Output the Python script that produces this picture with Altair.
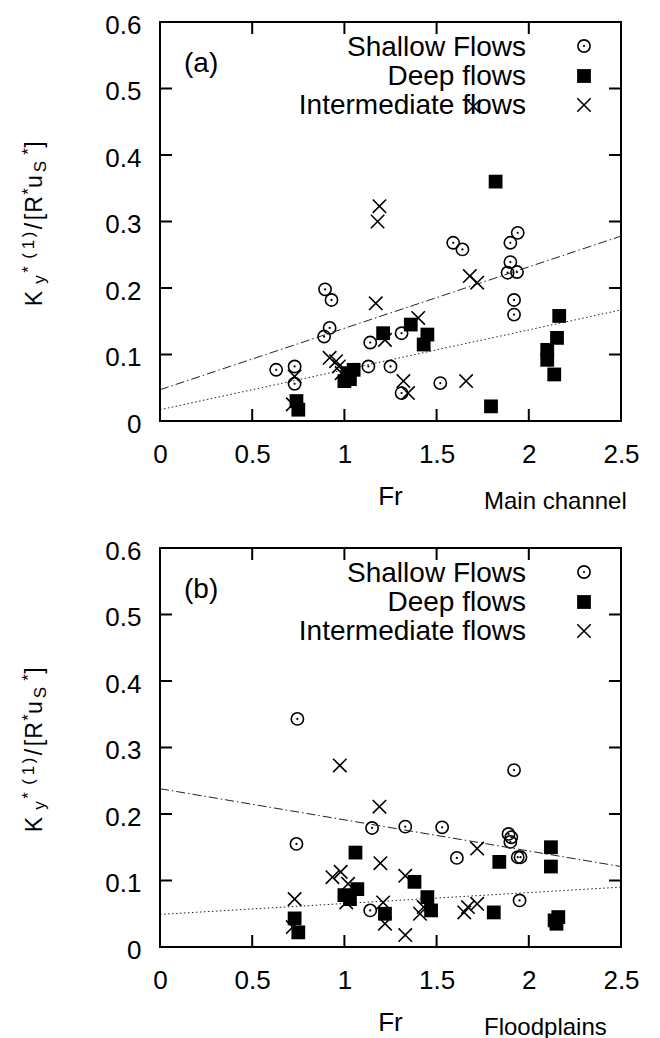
import altair as alt
import pandas as pd

# ---------------- data ----------------
# Panel (a): main channel
shallow_a_fr = [0.63, 0.73, 0.73, 0.895, 0.93, 0.92, 0.89, 1.13, 1.14, 1.25, 1.31, 1.31,
                1.52, 1.59, 1.64, 1.94, 1.90, 1.90, 1.885, 1.936, 1.92, 1.92]
shallow_a_k = [0.077, 0.082, 0.056, 0.198, 0.182, 0.140, 0.127, 0.082, 0.118, 0.082, 0.132, 0.042,
               0.057, 0.268, 0.258, 0.283, 0.268, 0.239, 0.223, 0.224, 0.182, 0.160]
deep_a_fr = [0.74, 0.75, 1.00, 1.03, 1.05, 1.02, 1.21, 1.36, 1.45, 1.43, 1.82, 1.795,
             2.165, 2.153, 2.10, 2.10, 2.138]
deep_a_k = [0.030, 0.017, 0.060, 0.063, 0.077, 0.072, 0.132, 0.145, 0.130, 0.115, 0.360, 0.022,
            0.158, 0.125, 0.107, 0.092, 0.070]
inter_a_fr = [0.73, 0.72, 1.19, 1.18, 1.17, 1.22, 0.92, 0.955, 0.97, 0.985, 1.68, 1.72,
              1.40, 1.32, 1.345, 1.66, 1.70]
inter_a_k = [0.067, 0.025, 0.323, 0.300, 0.177, 0.122, 0.095, 0.090, 0.082, 0.072, 0.218, 0.208,
             0.155, 0.060, 0.042, 0.060, 0.473]
fit_dashdot_a = [0.047, 0.278]
fit_dotted_a = [0.017, 0.167]

# Panel (b): floodplains
shallow_b_fr = [0.745, 0.74, 1.15, 1.14, 1.33, 1.53, 1.61, 1.92, 1.89, 1.905, 1.90, 1.94, 1.955, 1.95]
shallow_b_k = [0.343, 0.155, 0.179, 0.055, 0.181, 0.180, 0.134, 0.266, 0.170, 0.165, 0.158, 0.135,
               0.135, 0.070]
deep_b_fr = [0.73, 0.75, 1.06, 1.07, 1.03, 1.00, 1.22, 1.38, 1.45, 1.47, 1.81, 1.84,
             2.12, 2.12, 2.14, 2.16, 2.15]
deep_b_k = [0.043, 0.022, 0.142, 0.087, 0.072, 0.078, 0.050, 0.098, 0.075, 0.055, 0.052, 0.128,
            0.150, 0.121, 0.040, 0.045, 0.035]
inter_b_fr = [0.73, 0.72, 0.975, 1.19, 1.195, 0.935, 0.98, 1.02, 1.01, 1.21, 1.22, 1.33, 1.33,
              1.43, 1.41, 1.67, 1.65, 1.72, 1.72]
inter_b_k = [0.072, 0.030, 0.273, 0.211, 0.126, 0.105, 0.113, 0.095, 0.067, 0.067, 0.035, 0.107,
             0.018, 0.060, 0.050, 0.060, 0.052, 0.065, 0.148]
fit_dashdot_b = [0.238, 0.121]
fit_dotted_b = [0.049, 0.090]

fit_x = [0.0, 2.5]
x_domain = [0, 2.5]
y_domain = [0, 0.6]
x_ticks = [0, 0.5, 1, 1.5, 2, 2.5]
y_ticks = [0, 0.1, 0.2, 0.3, 0.4, 0.5, 0.6]
x_inner_ticks = [0.5, 1, 1.5, 2]
y_inner_ticks = [0.1, 0.2, 0.3, 0.4, 0.5]
legend_labels = ["Shallow Flows", "Deep flows", "Intermediate flows"]

# ---------------- layout ----------------
W, H = 461, 399
FONT = "Liberation Sans"
TICK = 12
ONE = pd.DataFrame({"a": [0]})
XPATH = "M-1,-1L1,1M-1,1L1,-1"

xs = alt.Scale(domain=x_domain, nice=False, zero=False)
ys = alt.Scale(domain=y_domain, nice=False, zero=False)

# x axis: labels below the frame, plus inward ticks drawn by the axis itself on a
# second (top) axis is avoided: ticks are drawn as marks at the end of the layer list
xaxis = alt.Axis(values=x_ticks, format="~g", ticks=False, tickSize=0, domain=False, grid=False,
                 labelFont=FONT, labelFontSize=26, labelColor="black", labelPadding=41,
                 labelBaseline="alphabetic", labelFlush=False, labelOverlap=False, title=None)
yaxis = alt.Axis(values=y_ticks, format="~g", ticks=False, tickSize=0, domain=False, grid=False,
                 labelFont=FONT, labelFontSize=26, labelColor="black", labelPadding=19,
                 labelBaseline="middle", labelOffset=3, labelFlush=False, labelOverlap=False,
                 title=None)


def txt(s, x, y, size, angle=0, align="left", baseline="alphabetic"):
    return alt.Chart(ONE).mark_text(text=s, font=FONT, fontSize=size, color="black",
                                    angle=angle, align=align, baseline=baseline).encode(
        x=alt.value(x), y=alt.value(y))


def ytitle():
    M, S = 23, 17
    bx, bsup, bsub = -118, -126, -114
    glyphs = [("K", bx, 278.5, M), ("y", bsub - 1, 259.5, S), ("*", bsup, 249.5, S),
              ("(", bsup, 236, S), ("1", bsup, 224.5, S), (")", bsup, 214.5, S),
              ("/", bx, 206, M), ("[", bx, 197, M), ("R", bx, 184.5, M),
              ("*", bsup, 171.5, S), ("u", bx, 161.5, M), ("S", bsub, 146.5, S),
              ("*", bsup, 131.5, S), ("]", bx, 124.5, M)]
    return [txt(c, x, y - 2, s, angle=270, align="center") for c, x, y, s in glyphs]


def guide_layers():
    xt = pd.DataFrame({"t": x_inner_ticks})
    yt = pd.DataFrame({"t": y_inner_ticks})
    rl = dict(color="#000000", strokeWidth=2, opacity=1)
    return [
        # frame
        alt.Chart(ONE).mark_rule(**rl).encode(x=alt.value(0), x2=alt.value(W), y=alt.value(0)),
        alt.Chart(ONE).mark_rule(**rl).encode(x=alt.value(0), x2=alt.value(W), y=alt.value(H)),
        alt.Chart(ONE).mark_rule(**rl).encode(x=alt.value(0), y=alt.value(0), y2=alt.value(H)),
        alt.Chart(ONE).mark_rule(**rl).encode(x=alt.value(W), y=alt.value(0), y2=alt.value(H)),
        # inward ticks
        alt.Chart(xt).mark_rule(**rl).encode(x=alt.X("t:Q", scale=xs), y=alt.value(H - TICK), y2=alt.value(H)),
        alt.Chart(xt).mark_rule(**rl).encode(x=alt.X("t:Q", scale=xs), y=alt.value(0), y2=alt.value(TICK)),
        alt.Chart(yt).mark_rule(**rl).encode(y=alt.Y("t:Q", scale=ys), x=alt.value(0), x2=alt.value(TICK)),
        alt.Chart(yt).mark_rule(**rl).encode(y=alt.Y("t:Q", scale=ys), x=alt.value(W - TICK), x2=alt.value(W)),
    ]


def panel(sfr, sk, dfr, dk, ifr, ik, dd, dt, tag, note):
    sdf = pd.DataFrame({"Fr": sfr, "K": sk})
    ddf = pd.DataFrame({"Fr": dfr, "K": dk})
    idf = pd.DataFrame({"Fr": ifr, "K": ik})
    enc = dict(x=alt.X("Fr:Q", scale=xs, axis=xaxis), y=alt.Y("K:Q", scale=ys, axis=yaxis))
    pos = dict(x=alt.X("Fr:Q", scale=xs), y=alt.Y("K:Q", scale=ys))

    dd_df = pd.DataFrame({"Fr": fit_x, "K": dd})
    dt_df = pd.DataFrame({"Fr": fit_x, "K": dt})
    lines = [
        alt.Chart(dd_df).mark_line(color="#222", strokeWidth=1, strokeDash=[9, 3, 1.5, 3]).encode(**pos),
        alt.Chart(dt_df).mark_line(color="#222", strokeWidth=1, strokeDash=[1.5, 2.5]).encode(**pos),
    ]

    circ = dict(shape="circle", filled=False, size=150, strokeWidth=1.6, color="black", opacity=1)
    dot = dict(shape="circle", filled=True, size=5, color="black", strokeWidth=0, opacity=1)
    sq = dict(shape="square", filled=True, size=190, color="black", strokeWidth=0, opacity=1)
    cross = dict(shape=XPATH, filled=False, size=180, strokeWidth=1.6, color="black", opacity=1)

    marks = [
        alt.Chart(sdf).mark_point(**circ).encode(**enc),
        alt.Chart(sdf).mark_point(**dot).encode(**pos),
        alt.Chart(ddf).mark_point(**sq).encode(**pos),
        alt.Chart(idf).mark_point(**cross).encode(**pos),
    ]

    lx, ltx = 424, 366
    legend = [
        txt(legend_labels[0], ltx, 34, 28, align="right"),
        txt(legend_labels[1], ltx, 63, 28, align="right"),
        txt(legend_labels[2], ltx, 92, 28, align="right"),
        alt.Chart(ONE).mark_point(**circ).encode(x=alt.value(lx), y=alt.value(24)),
        alt.Chart(ONE).mark_point(**dot).encode(x=alt.value(lx), y=alt.value(24)),
        alt.Chart(ONE).mark_point(**sq).encode(x=alt.value(lx), y=alt.value(54)),
        alt.Chart(ONE).mark_point(**cross).encode(x=alt.value(lx), y=alt.value(83)),
    ]

    texts = [
        txt(tag, 24, 42, 28, baseline="middle"),
        txt("Fr", W / 2, H + 84, 26, align="center"),
        txt(note, 324, H + 88, 24),
    ] + ytitle()

    layers = marks[:1] + lines + marks[1:] + legend + texts + guide_layers()
    return alt.layer(*layers).properties(width=W, height=H)


pa = panel(shallow_a_fr, shallow_a_k, deep_a_fr, deep_a_k, inter_a_fr, inter_a_k,
           fit_dashdot_a, fit_dotted_a, "(a)", "Main channel")
pb = panel(shallow_b_fr, shallow_b_k, deep_b_fr, deep_b_k, inter_b_fr, inter_b_k,
           fit_dashdot_b, fit_dotted_b, "(b)", "Floodplains")

chart = alt.vconcat(pa, pb, spacing=22).properties(
    padding={"left": 11, "top": 3, "right": 5, "bottom": 0},
    background="white",
).configure_view(stroke="#000000", strokeWidth=2)

chart.save("out.html", embed_options={"renderer": "svg", "actions": False})
